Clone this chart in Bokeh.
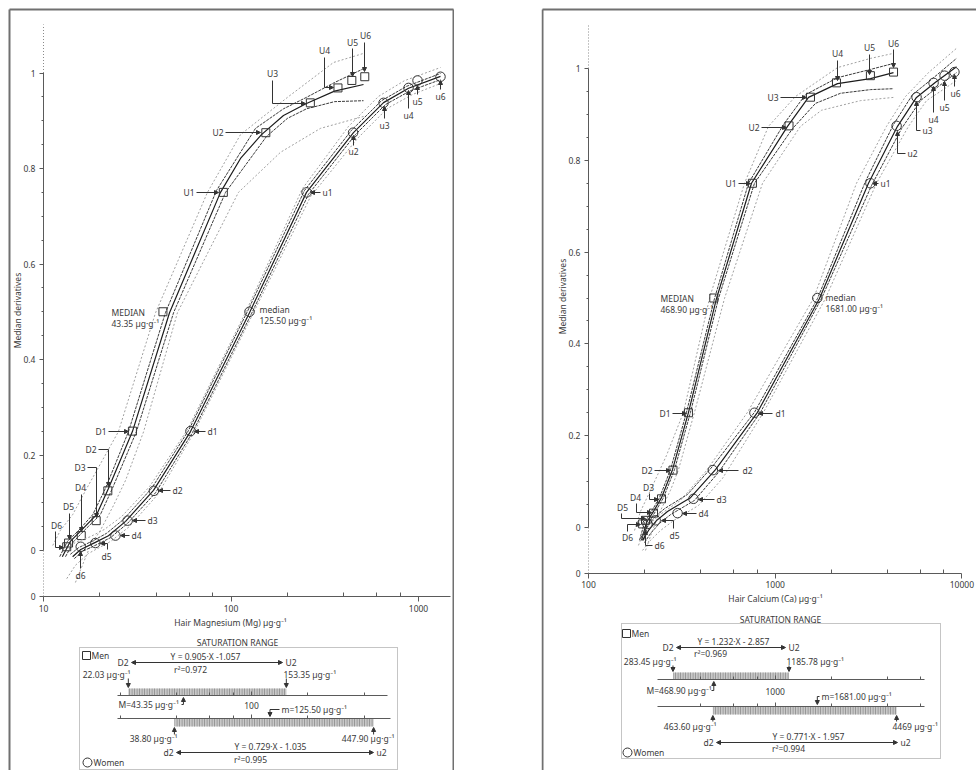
import math
from bokeh.plotting import figure
from bokeh.models import (Range1d, LogScale, LogAxis, LinearAxis, FixedTicker,
                          PrintfTickFormatter, CustomJSTickFormatter, Arrow, NormalHead)
from bokeh.layouts import row
from bokeh.embed import file_html
from bokeh.resources import INLINE
from bokeh.core.properties import value

# ------------------------------------------------------------------ data
level_D = [0.25, 0.125, 0.0625, 0.03125, 0.015625, 0.0078125]
level_U = [0.75, 0.875, 0.9375, 0.96875, 0.984375, 0.9921875]
names_D = ["D1", "D2", "D3", "D4", "D5", "D6"]
names_U = ["U1", "U2", "U3", "U4", "U5", "U6"]
names_d = ["d1", "d2", "d3", "d4", "d5", "d6"]
names_u = ["u1", "u2", "u3", "u4", "u5", "u6"]
y_ticks = [0, 0.2, 0.4, 0.6, 0.8, 1.0]
y_minor = [0.05, 0.1, 0.15, 0.25, 0.3, 0.35, 0.45, 0.5, 0.55, 0.65, 0.7, 0.75, 0.85, 0.9, 0.95]

# ---- Magnesium
mg_x_ticks = [10, 100, 1000]
mg_x_minor = [20, 40, 60, 80, 200, 400, 600, 800]
mg_men_median = 43.35
mg_men_D = [29.8, 22.03, 19.1, 15.9, 13.6, 13.3]
mg_men_U = [91.0, 153.35, 265.0, 372.0, 441.0, 517.0]
mg_wom_median = 125.50
mg_wom_D = [60.8, 38.80, 28.1, 24.2, 18.9, 15.8]
mg_wom_U = [253.0, 447.90, 651.0, 885.0, 988.0, 1310.0]

mg_men_fit_x = [12.6, 13.9, 15.9, 19.2, 22.2, 29.8, 47.0, 87.9, 112.4, 145.4, 190.5, 252.7, 356.5, 509]
mg_men_fit_y = [-0.013, 0.019, 0.042, 0.075, 0.130, 0.249, 0.498, 0.750, 0.821, 0.871, 0.911, 0.936, 0.962, 0.976]
mg_men_in_hi_x = [12.2, 13.4, 15.4, 18.3, 21.4, 28.4, 44.7, 83.7, 135.1, 190.5, 252.7, 356.5, 509]
mg_men_in_hi_y = [-0.013, 0.019, 0.042, 0.075, 0.130, 0.249, 0.498, 0.754, 0.884, 0.925, 0.949, 0.980, 1.009]
mg_men_in_lo_x = [13.1, 14.5, 16.5, 20.1, 23.3, 31.3, 49.4, 93.5, 154.6, 200.0, 252.7, 356.5, 509]
mg_men_in_lo_y = [-0.013, 0.019, 0.042, 0.075, 0.130, 0.249, 0.498, 0.750, 0.867, 0.905, 0.925, 0.940, 0.942]
mg_men_out_hi_x = [11.2, 12.3, 14.3, 17.0, 25.1, 39.6, 74.9, 112.4, 200.1, 352, 509]
mg_men_out_hi_y = [0.0105, 0.042, 0.075, 0.130, 0.249, 0.498, 0.750, 0.871, 0.949, 1.022, 1.041]
mg_men_out_lo_x = [14.8, 17.8, 20.1, 23.6, 27.4, 34.2, 51.8, 109.6, 183.7, 300, 509]
mg_men_out_lo_y = [-0.067, 0.0105, 0.042, 0.094, 0.147, 0.249, 0.498, 0.750, 0.834, 0.884, 0.909]

mg_wom_fit_x = [14.3, 15.8, 18.9, 22.2, 27.4, 38.6, 60.8, 125.5, 252.7, 450, 651, 885, 1310]
mg_wom_fit_y = [-0.013, 0.002, 0.017, 0.031, 0.061, 0.126, 0.249, 0.498, 0.750, 0.875, 0.938, 0.968, 0.993]
mg_wom_in_hi_x = [13.9, 15.4, 18.5, 21.7, 26.7, 37.7, 59.3, 122.5, 246.6, 439, 635, 863, 1310]
mg_wom_in_hi_y = [-0.008, 0.006, 0.021, 0.036, 0.065, 0.130, 0.251, 0.501, 0.754, 0.880, 0.942, 0.972, 0.999]
mg_wom_in_lo_x = [14.6, 16.1, 19.4, 22.8, 28.1, 39.6, 62.3, 128.6, 259, 461, 667, 907, 1310]
mg_wom_in_lo_y = [-0.017, -0.002, 0.013, 0.027, 0.057, 0.121, 0.247, 0.496, 0.746, 0.871, 0.934, 0.963, 0.986]
mg_wom_out_hi_x = [13.4, 14.8, 17.8, 21.1, 26.1, 36.8, 58.6, 121, 240.6, 423, 612, 842, 1310]
mg_wom_out_hi_y = [0.004, 0.017, 0.029, 0.044, 0.071, 0.134, 0.253, 0.503, 0.758, 0.888, 0.951, 0.984, 1.0115]
mg_wom_out_lo_x = [13.3, 14.8, 17.4, 22.8, 28.7, 40.6, 63.1, 130.3, 265.5, 473, 683, 929, 1310]
mg_wom_out_lo_y = [-0.059, -0.031, -0.006, 0.019, 0.050, 0.117, 0.245, 0.494, 0.741, 0.863, 0.926, 0.955, 0.978]

mg_sat_men = [22.03, 153.35]
mg_sat_men_txt = ["22.03 µg·g⁻¹", "153.35 µg·g⁻¹"]
mg_sat_wom = [38.80, 447.90]
mg_sat_wom_txt = ["38.80 µg·g⁻¹", "447.90 µg·g⁻¹"]
mg_eq_men, mg_r2_men = "Y = 0.905·X -1.057", "r²=0.972"
mg_eq_wom, mg_r2_wom = "Y = 0.729·X - 1.035", "r²=0.995"
mg_sat_ticks = [100]
mg_sat_minor = [20, 40, 60, 80, 200, 400]

# ---- Calcium
ca_x_ticks = [100, 1000, 10000]
ca_x_minor = [200, 400, 600, 800, 2000, 4000, 6000, 8000]
ca_men_median = 468.90
ca_men_D = [343.0, 283.45, 246.0, 223.0, 202.0, 195.0]
ca_men_U = [755.0, 1185.78, 1545.0, 2129.0, 3236.0, 4303.0]
ca_wom_median = 1681.00
ca_wom_D = [774.0, 463.60, 365.0, 300.0, 229.0, 207.0]
ca_wom_U = [3236.0, 4469.0, 5715.0, 7050.0, 8075.0, 9120.0]

ca_men_fit_x = [192.3, 204.5, 222.9, 246.0, 281.8, 343.2, 484.9, 746.4, 1164, 1508, 2157, 3239, 4302]
ca_men_fit_y = [-0.028, 0.011, 0.035, 0.065, 0.126, 0.251, 0.499, 0.750, 0.874, 0.937, 0.967, 0.978, 0.991]
ca_men_in_hi_x = [187.6, 199.5, 217.5, 240.1, 274.9, 334.9, 473.1, 719.4, 1108, 1453, 2157, 3239, 4302]
ca_men_in_hi_y = [-0.028, 0.011, 0.035, 0.065, 0.126, 0.251, 0.499, 0.750, 0.878, 0.943, 0.980, 0.998, 1.011]
ca_men_in_lo_x = [197.1, 209.6, 228.5, 252.2, 288.8, 351.8, 496.9, 774.5, 1238, 1644, 2238, 3239, 4302]
ca_men_in_lo_y = [-0.028, 0.011, 0.035, 0.065, 0.126, 0.251, 0.499, 0.750, 0.869, 0.924, 0.946, 0.954, 0.956]
ca_men_out_hi_x = [176.4, 189.9, 214.8, 261.7, 322.7, 444.7, 684.7, 920.6, 1284, 2157, 3239, 4302]
ca_men_out_hi_y = [-0.0065, 0.035, 0.081, 0.157, 0.251, 0.499, 0.750, 0.874, 0.939, 1.002, 1.022, 1.033]
ca_men_out_lo_x = [202.0, 220.2, 243.0, 274.9, 303.4, 369.6, 535.1, 855.1, 1366, 1770, 2864, 4302]
ca_men_out_lo_y = [-0.050, -0.0065, 0.037, 0.081, 0.126, 0.251, 0.499, 0.750, 0.874, 0.909, 0.930, 0.937]

ca_wom_fit_x = [194.6, 209.6, 231.3, 264.9, 351.8, 478.9, 803.7, 1727, 3160, 4519, 5712, 7222, 9357]
ca_wom_fit_y = [-0.028, -0.0065, 0.015, 0.035, 0.065, 0.126, 0.251, 0.499, 0.750, 0.874, 0.937, 0.970, 1.004]
ca_wom_in_hi_x = [189.9, 204.5, 225.7, 255.3, 339.0, 461.5, 774.5, 1685, 3045, 4302, 5438, 6960, 9357]
ca_wom_in_hi_y = [-0.024, 0.0, 0.022, 0.041, 0.072, 0.133, 0.251, 0.499, 0.754, 0.878, 0.943, 0.978, 1.022]
ca_wom_in_lo_x = [199.5, 214.8, 240.1, 274.9, 369.6, 496.9, 834.0, 1770, 3280, 4749, 6001, 7494, 9357]
ca_wom_in_lo_y = [-0.033, -0.013, 0.009, 0.028, 0.059, 0.120, 0.251, 0.499, 0.745, 0.869, 0.930, 0.961, 0.991]
ca_wom_out_hi_x = [185.2, 194.6, 209.6, 237.1, 311.0, 428.6, 710.5, 1604, 2726, 3947, 4988, 6624, 9357]
ca_wom_out_hi_y = [-0.039, -0.017, 0.004, 0.026, 0.059, 0.124, 0.251, 0.499, 0.750, 0.874, 0.939, 0.991, 1.044]
ca_wom_out_lo_x = [194.6, 214.8, 243.0, 285.3, 388.3, 522.1, 865.7, 1859, 3488, 5176, 6463, 8070, 9357]
ca_wom_out_lo_y = [-0.050, -0.028, -0.0065, 0.015, 0.048, 0.107, 0.251, 0.499, 0.750, 0.874, 0.930, 0.956, 0.974]

ca_sat_men = [283.45, 1185.78]
ca_sat_men_txt = ["283.45 µg·g⁻¹", "1185.78 µg·g⁻¹"]
ca_sat_wom = [463.60, 4469.0]
ca_sat_wom_txt = ["463.60 µg·g⁻¹", "4469 µg·g⁻¹"]
ca_eq_men, ca_r2_men = "Y = 1.232·X - 2.857", "r²=0.969"
ca_eq_wom, ca_r2_wom = "Y = 0.771·X - 1.957", "r²=0.994"
ca_sat_ticks = [1000]
ca_sat_minor = [400, 600, 800, 2000, 4000, 6000]

# ------------------------------------------------------------------ style
FONT = "Noto Sans"
FS = "8.5px"
TXT = "#3a3a3a"
AX = "#5a5a5a"
LC = "#333333"
FIT = dict(line_color="#1c1c1c", line_width=1.2)
INN = dict(line_color="#3a3a3a", line_width=1, line_dash="3 1")
OUT = dict(line_color="#a0a0a0", line_width=1, line_dash="2 2")

# ------------------------------------------------------------------ label layout (page pixels)
mg_lbl_U = [(194, 192, "right", [(196, 192), (218, 192)]),
            (223, 132, "right", [(225, 132), (260, 132)]),
            (272, 73, "center", [(272, 80), (272, 103), (305, 103)]),
            (324, 50, "center", [(324, 57), (324, 87), (333, 87)]),
            (352, 42, "center", [(352, 48), (352, 76)]),
            (365, 35, "center", [(364, 42), (364, 71)])]
mg_lbl_u = [(322, 192, "left", [(320, 192), (310, 192)]),
            (353, 151, "center", [(353, 145), (353, 135)]),
            (384, 125, "center", [(384, 118), (384, 106)]),
            (408, 115, "center", [(408, 108), (408, 90)]),
            (417, 101, "center", [(417, 94), (417, 85)]),
            (440, 96, "center", [(440, 89), (440, 80)])]
mg_lbl_D = [(106, 431, "right", [(108, 431), (128, 431)]),
            (96, 449, "right", [(98, 449), (108, 449), (108, 486)]),
            (85, 467, "right", [(87, 467), (96, 467), (96, 517)]),
            (80, 487, "center", [(81, 494), (81, 531)]),
            (68, 506, "center", [(69, 513), (69, 539)]),
            (56, 525, "center", [(55, 531), (55, 547), (63, 547)])]
mg_lbl_d = [(207, 431, "left", [(205, 431), (194, 431)]),
            (172, 490, "left", [(170, 490), (158, 490)]),
            (147, 520, "left", [(145, 520), (132, 520)]),
            (131, 535, "left", [(129, 535), (120, 535)]),
            (106, 556, "center", [(107, 549), (107, 543), (100, 543)]),
            (80, 575, "center", [(80, 568), (80, 551)])]

ca_lbl_U = [(736, 183, "right", [(738, 183), (750, 183)]),
            (759, 127, "right", [(761, 127), (786, 127)]),
            (778, 97, "right", [(780, 97), (806, 97)]),
            (837, 53, "center", [(837, 60), (837, 80)]),
            (869, 47, "center", [(869, 54), (869, 74)]),
            (893, 43, "center", [(893, 49), (893, 67)])]
ca_lbl_u = [(880, 183, "left", [(878, 183), (872, 183)]),
            (907, 153, "left", [(905, 153), (897, 153), (897, 131)]),
            (922, 130, "left", [(920, 130), (916, 130), (916, 101)]),
            (933, 119, "center", [(933, 112), (933, 86)]),
            (944, 107, "center", [(944, 100), (944, 81)]),
            (955, 93, "center", [(954, 86), (954, 74)])]
ca_lbl_D = [(670, 413, "right", [(672, 413), (686, 413)]),
            (652, 470, "right", [(654, 470), (670, 470)]),
            (648, 487, "center", [(649, 493), (649, 499), (658, 499)]),
            (635, 497, "center", [(636, 503), (636, 512), (651, 512)]),
            (622, 507, "center", [(621, 513), (621, 518), (645, 518)]),
            (627, 537, "center", [(627, 531), (627, 524), (640, 524)])]
ca_lbl_d = [(775, 413, "left", [(772, 413), (758, 413)]),
            (742, 470, "left", [(738, 470), (718, 470)]),
            (716, 499, "left", [(714, 499), (698, 499)]),
            (698, 513, "left", [(696, 513), (682, 513)]),
            (674, 535, "center", [(673, 528), (673, 520), (661, 520)]),
            (654, 545, "left", [(652, 545), (645, 545), (645, 530)])]


def build_panel(c):
    fx = lambda px: c["xref"] * 10 ** ((px - c["pxref"]) / c["ppd"])
    fy = lambda py: (c["py0"] - py) / c["ppu"]
    sx = lambda px: c["sxref"] * 10 ** ((px - c["spxref"]) / c["ppd"])
    spx = lambda v: c["spxref"] + c["ppd"] * math.log10(v / c["sxref"])
    L, W, T, H = c["left"], c["width"], 0, 770

    p = figure(width=W, height=H, x_axis_type="log",
               x_range=Range1d(fx(L), fx(L + W)), y_range=Range1d(fy(T + H), fy(T)),
               x_axis_location=None, y_axis_location=None,
               toolbar_location=None, output_backend="svg",
               min_border=0, outline_line_color=None,
               background_fill_color="white", border_fill_color="white")
    p.xgrid.visible = False
    p.ygrid.visible = False
    p.extra_x_ranges = {"sat": Range1d(sx(L), sx(L + W))}
    p.extra_x_scales = {"sat": LogScale()}

    texts = {"left": [], "center": [], "right": []}

    def add_text(s, px, py, align="left"):
        texts[align].append((fx(px), fy(py), s))

    def leader(pts, both=False):
        xs = [fx(a) for a, b in pts]
        ys = [fy(b) for a, b in pts]
        if len(pts) > 2:
            p.line(xs[:-1], ys[:-1], line_color=LC, line_width=1)
        p.add_layout(Arrow(start=NormalHead(size=4, line_color=LC, fill_color=LC) if both else None,
                           end=NormalHead(size=4, line_color=LC, fill_color=LC),
                           x_start=xs[-2], y_start=ys[-2], x_end=xs[-1], y_end=ys[-1],
                           line_color=LC, line_width=1))

    # panel frame (page pixels of the grey border)
    fx0, fy0, fx1 = c["frame"]
    edges = {"left": ((fx0, fy0), (fx0, T + H)),
             "top": ((fx0, fy0), (fx1, fy0)),
             "right": ((fx1, fy0), (fx1, T + H))}
    for side in c["borders"]:
        (a, b), (cc, d) = edges[side]
        p.segment(x0=[fx(a)], y0=[fy(b)], x1=[fx(cc)], y1=[fy(d)],
                  line_color="#707070", line_width=2)

    # main axes
    ybot = fy(c["xaxis_py"])
    xa = LogAxis(fixed_location=ybot, bounds=c["xbounds"],
                 ticker=FixedTicker(ticks=c["xticks"], minor_ticks=c["xminor"]),
                 formatter=PrintfTickFormatter(format="%d"),
                 axis_line_color=AX, major_tick_line_color=AX, minor_tick_line_color=AX,
                 major_tick_in=0, major_tick_out=5, minor_tick_in=4, minor_tick_out=0,
                 major_label_text_font=FONT, major_label_text_font_size=FS,
                 major_label_text_color=TXT, major_label_standoff=c["xstand"])
    p.add_layout(xa, "below")
    ya = LinearAxis(fixed_location=c["yaxis_x"],
                    ticker=FixedTicker(ticks=[ybot] + y_ticks, minor_ticks=y_minor),
                    formatter=CustomJSTickFormatter(
                        code="return tick < -0.01 ? '0' : String(Math.round(tick * 10) / 10);"),
                    axis_line_color=None, major_tick_line_color=AX, minor_tick_line_color=AX,
                    major_tick_in=0, major_tick_out=4, minor_tick_in=0, minor_tick_out=2,
                    major_label_text_font=FONT, major_label_text_font_size=FS,
                    major_label_text_color=TXT, major_label_standoff=4)
    p.add_layout(ya, "left")
    a0 = c["yaxis_x"]
    p.segment(x0=[a0], y0=[0], x1=[a0], y1=[1], line_color=AX, line_width=1)
    p.segment(x0=[a0, a0], y0=[1, ybot], x1=[a0, a0], y1=[fy(c["ytop_py"]), 0],
              line_color="#8a8a8a", line_width=1, line_dash="1 2")

    p.text(x=[fx(c["xlab"][0])], y=[fy(c["xlab"][1])], text=[c["xlab_text"]],
           text_align="center", text_baseline="middle", text_font=value(FONT),
           text_font_size=FS, text_color=TXT)
    p.text(x=[fx(c["ylab"][0])], y=[fy(c["ylab"][1])], text=["Median derivatives"],
           angle=math.pi / 2, text_align="center", text_baseline="middle",
           text_font=value(FONT), text_font_size=FS, text_color=TXT)

    # curves + points + labels
    for g in c["groups"]:
        for key, sty in (("out_hi", OUT), ("out_lo", OUT), ("in_hi", INN), ("in_lo", INN), ("fit", FIT)):
            xs, ys = g[key]
            p.line(xs, ys, **sty)
        p.scatter([g["median"]] + g["D"] + g["U"], [0.5] + level_D + level_U,
                  marker=g["marker"], size=g["size"], fill_color=None,
                  line_color="#333333", line_width=1)
        for names, specs in ((g["nD"], g["lD"]), (g["nU"], g["lU"])):
            for name, (tx, ty, al, path) in zip(names, specs):
                add_text(name, tx, ty, al)
                leader(path)
        (m1x, m1y), (m2x, m2y) = g["lmed"]
        add_text(g["med_word"], m1x, m1y, "left")
        add_text(f"{g['median']:.2f} µg·g⁻¹", m2x, m2y, "left")

    # saturation range
    s = c["sat"]
    bx0, by0, bx1, by1 = s["box"]
    p.quad(left=[fx(bx0)], right=[fx(bx1)], top=[fy(by0)], bottom=[fy(by1)],
           fill_color=None, line_color="#8a8a8a", line_dash="1 1", line_width=1)
    add_text("SATURATION RANGE", s["title"][0], s["title"][1], "center")
    p.scatter([fx(s["men_mark"][0])], [fy(s["men_mark"][1])], marker="square", size=8,
              fill_color=None, line_color="#333333")
    add_text("Men", s["men_mark"][0] + 5, s["men_mark"][1], "left")
    p.scatter([fx(s["wom_mark"][0])], [fy(s["wom_mark"][1])], marker="circle", size=9,
              fill_color=None, line_color="#333333")
    add_text("Women", s["wom_mark"][0] + 6, s["wom_mark"][1], "left")

    for r in s["rows"]:
        lo, hi = r["vals"]
        add_text(r["eq"], r["eq_pos"][0], r["eq_pos"][1], "center")
        add_text(r["r2"], r["r2_pos"][0], r["r2_pos"][1], "center")
        dx0, dx1, dy = r["dbl"]
        add_text(r["nlo"], dx0 - 3, dy, "right")
        add_text(r["nhi"], dx1 + 3, dy, "left")
        leader([(dx0, dy), (dx1, dy)], both=True)
        for txt, (vx, al) in zip(r["txt"], r["txt_pos"]):
            add_text(txt, vx, r["txt_y"], al)
        ay0, ay1 = r["arr_y"]
        for v in (lo, hi):
            leader([(spx(v), ay0), (spx(v), ay1)])
        bt, bb = r["bar_y"]
        p.quad(left=[lo], right=[hi], top=[fy(bt)], bottom=[fy(bb)], x_range_name="sat",
               fill_color="#c8c8c8", line_color=None, hatch_pattern="|",
               hatch_color="#8c8c8c", hatch_scale=2.5, hatch_weight=1)
        ax_px0, ax_px1 = r["axis_px"]
        sa = LogAxis(x_range_name="sat", fixed_location=fy(r["axis_y"]),
                     bounds=(sx(ax_px0), sx(ax_px1)),
                     ticker=FixedTicker(ticks=c["sat_ticks"], minor_ticks=c["sat_minor"]),
                     formatter=PrintfTickFormatter(format="%d"),
                     axis_line_color=AX, major_tick_line_color=AX, minor_tick_line_color=AX,
                     major_tick_in=4, major_tick_out=0, minor_tick_in=3, minor_tick_out=0,
                     major_label_text_font=FONT, major_label_text_font_size=FS,
                     major_label_text_color=TXT if r["axis_labels"] else None,
                     major_label_standoff=c["sat_stand"])
        p.add_layout(sa, "below")
        (mtx, mty), bx, tip_y = r["med_pos"], r["bracket_x"], r["bracket_tip"]
        add_text(f"{r['med_tag']}={r['med']:.2f} µg·g⁻¹", mtx, mty, "left")
        mpx = spx(r["med"])
        leader([(bx, mty), (mpx, mty), (mpx, tip_y)])

    for al, items in texts.items():
        if items:
            p.text(x=[t[0] for t in items], y=[t[1] for t in items], text=[t[2] for t in items],
                   text_align=al, text_baseline="middle", text_font=value(FONT),
                   text_font_size=FS, text_color=TXT)
    return p


mg_cfg = dict(
    left=0, width=454, pxref=43, xref=10, ppd=187.5, py0=550, ppu=477.5,
    spxref=251, sxref=100, borders=["left", "top", "right"], frame=(9, 9, 453),
    xaxis_py=596, ytop_py=24, yaxis_x=10, xbounds=(10, 1482),
    xticks=mg_x_ticks, xminor=mg_x_minor, xstand=3,
    xlab=(230, 622), xlab_text="Hair Magnesium (Mg) µg·g⁻¹", ylab=(17, 310),
    sat_ticks=mg_sat_ticks, sat_minor=mg_sat_minor, sat_stand=6,
    groups=[
        dict(fit=(mg_men_fit_x, mg_men_fit_y), in_hi=(mg_men_in_hi_x, mg_men_in_hi_y),
             in_lo=(mg_men_in_lo_x, mg_men_in_lo_y), out_hi=(mg_men_out_hi_x, mg_men_out_hi_y),
             out_lo=(mg_men_out_lo_x, mg_men_out_lo_y), median=mg_men_median,
             D=mg_men_D, U=mg_men_U, marker="square", size=8,
             nD=names_D, nU=names_U, lD=mg_lbl_D, lU=mg_lbl_U,
             med_word="MEDIAN", lmed=[(111, 312), (111, 323)]),
        dict(fit=(mg_wom_fit_x, mg_wom_fit_y), in_hi=(mg_wom_in_hi_x, mg_wom_in_hi_y),
             in_lo=(mg_wom_in_lo_x, mg_wom_in_lo_y), out_hi=(mg_wom_out_hi_x, mg_wom_out_hi_y),
             out_lo=(mg_wom_out_lo_x, mg_wom_out_lo_y), median=mg_wom_median,
             D=mg_wom_D, U=mg_wom_U, marker="circle", size=9.5,
             nD=names_d, nU=names_u, lD=mg_lbl_d, lU=mg_lbl_u,
             med_word="median", lmed=[(259, 309), (259, 320)]),
    ],
    sat=dict(
        box=(79, 647, 397, 769), title=(237, 642), men_mark=(86, 655), wom_mark=(87, 762),
        rows=[
            dict(vals=mg_sat_men, txt=mg_sat_men_txt, txt_pos=[(130, "right"), (283, "left")], txt_y=674,
                 eq=mg_eq_men, eq_pos=(205, 656), r2=mg_r2_men, r2_pos=(190, 669),
                 nlo="D2", nhi="U2", dbl=(131, 282, 662), arr_y=(678, 687), bar_y=(688, 695),
                 axis_y=695, axis_px=(117, 387), axis_labels=True,
                 med=mg_men_median, med_tag="M", med_pos=(118, 704), bracket_x=181, bracket_tip=697),
            dict(vals=mg_sat_wom, txt=mg_sat_wom_txt, txt_pos=[(177, "right"), (394, "right")], txt_y=738,
                 eq=mg_eq_wom, eq_pos=(270, 746), r2=mg_r2_wom, r2_pos=(250, 759),
                 nlo="d2", nhi="u2", dbl=(176, 373, 752), arr_y=(734, 727), bar_y=(718, 726),
                 axis_y=718, axis_px=(117, 390), axis_labels=False,
                 med=mg_wom_median, med_tag="m", med_pos=(281, 709), bracket_x=279, bracket_tip=716),
        ]),
)

ca_cfg = dict(
    left=541, width=435, pxref=588, xref=100, ppd=186.7, py0=527, ppu=459,
    spxref=588, sxref=100, borders=["left", "top"], frame=(542, 9, 976),
    xaxis_py=573, ytop_py=23, yaxis_x=100, xbounds=(100, 10000),
    xticks=ca_x_ticks, xminor=ca_x_minor, xstand=2,
    xlab=(775, 598), xlab_text="Hair Calcium (Ca) µg·g⁻¹", ylab=(562, 296),
    sat_ticks=ca_sat_ticks, sat_minor=ca_sat_minor, sat_stand=8,
    groups=[
        dict(fit=(ca_men_fit_x, ca_men_fit_y), in_hi=(ca_men_in_hi_x, ca_men_in_hi_y),
             in_lo=(ca_men_in_lo_x, ca_men_in_lo_y), out_hi=(ca_men_out_hi_x, ca_men_out_hi_y),
             out_lo=(ca_men_out_lo_x, ca_men_out_lo_y), median=ca_men_median,
             D=ca_men_D, U=ca_men_U, marker="square", size=8,
             nD=names_D, nU=names_U, lD=ca_lbl_D, lU=ca_lbl_U,
             med_word="MEDIAN", lmed=[(660, 298), (660, 309)]),
        dict(fit=(ca_wom_fit_x, ca_wom_fit_y), in_hi=(ca_wom_in_hi_x, ca_wom_in_hi_y),
             in_lo=(ca_wom_in_lo_x, ca_wom_in_lo_y), out_hi=(ca_wom_out_hi_x, ca_wom_out_hi_y),
             out_lo=(ca_wom_out_lo_x, ca_wom_out_lo_y), median=ca_wom_median,
             D=ca_wom_D, U=ca_wom_U, marker="circle", size=9.5,
             nD=names_d, nU=names_u, lD=ca_lbl_d, lU=ca_lbl_u,
             med_word="median", lmed=[(825, 297), (825, 308)]),
    ],
    sat=dict(
        box=(621, 623, 940, 758), title=(780, 619), men_mark=(626, 633), wom_mark=(627, 752),
        rows=[
            dict(vals=ca_sat_men, txt=ca_sat_men_txt, txt_pos=[(676, "right"), (786, "left")], txt_y=661,
                 eq=ca_eq_men, eq_pos=(733, 641), r2=ca_r2_men, r2_pos=(710, 653),
                 nlo="D2", nhi="U2", dbl=(676, 785, 647), arr_y=(665, 671), bar_y=(672, 679),
                 axis_y=679, axis_px=(657, 924), axis_labels=True,
                 med=ca_men_median, med_tag="M", med_pos=(646, 690), bracket_x=711, bracket_tip=681),
            dict(vals=ca_sat_wom, txt=ca_sat_wom_txt, txt_pos=[(716, "right"), (892, "left")], txt_y=726,
                 eq=ca_eq_wom, eq_pos=(808, 736), r2=ca_r2_wom, r2_pos=(788, 748),
                 nlo="d2", nhi="u2", dbl=(716, 897, 742), arr_y=(721, 715), bar_y=(706, 714),
                 axis_y=706, axis_px=(657, 924), axis_labels=False,
                 med=ca_wom_median, med_tag="m", med_pos=(821, 696), bracket_x=819, bracket_tip=704),
        ]),
)

p_mg = build_panel(mg_cfg)
p_ca = build_panel(ca_cfg)
layout = row(p_mg, p_ca, spacing=87)
open("out.html", "w").write(file_html(layout, INLINE))
